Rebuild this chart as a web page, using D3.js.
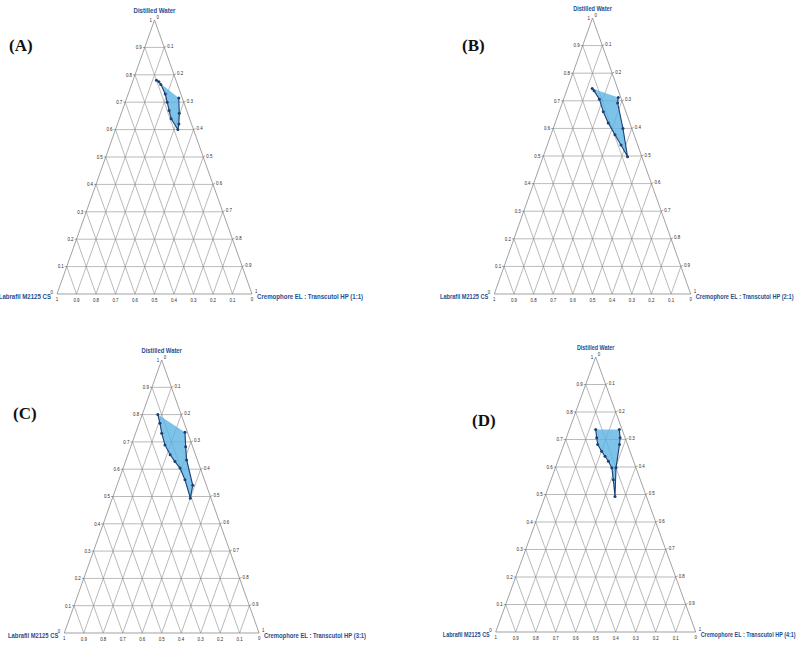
<!DOCTYPE html>
<html lang="en">
  <head>
    <meta charset="utf-8">
    <title>Pseudo-ternary phase diagrams</title>
    <script src="https://cdn.jsdelivr.net/npm/d3@7"></script>
    <style>
      body { margin: 0; background: #fff; }
    </style>
  </head>
  <body>
    <script>
      // panel names and Smix ratios
      const panelNames = ["(A)", "(B)", "(C)", "(D)"];
      const smixRatios = ["1:1", "2:1", "3:1", "4:1"];
      const topName = "Distilled Water";
      const leftName = "Labrafil M2125 CS";
      const rightName = "Cremophore EL : Transcutol HP";
      const tickValues = [0.1, 0.2, 0.3, 0.4, 0.5, 0.6, 0.7, 0.8, 0.9];
      const tickLabels = ["0.1", "0.2", "0.3", "0.4", "0.5", "0.6", "0.7", "0.8", "0.9"];

      // boundary of the microemulsion region, water + Smix fractions (oil = rest)
      // order: top-left corner, down the left side, up the right side
      const waterA = [0.78, 0.775, 0.765, 0.73, 0.70, 0.67, 0.64, 0.60, 0.62, 0.66, 0.715];
      const smixA  = [0.12, 0.135, 0.15, 0.19, 0.215, 0.24, 0.265, 0.32, 0.315, 0.297, 0.267];
      const waterB = [0.745, 0.736, 0.706, 0.66, 0.62, 0.577, 0.54, 0.497, 0.60, 0.692, 0.712];
      const smixB  = [0.126, 0.14, 0.182, 0.225, 0.27, 0.326, 0.375, 0.43, 0.355, 0.282, 0.275];
      const waterC = [0.80, 0.768, 0.732, 0.689, 0.653, 0.628, 0.604, 0.561, 0.494, 0.541, 0.634, 0.682, 0.735];
      const smixC  = [0.08, 0.107, 0.134, 0.172, 0.217, 0.254, 0.292, 0.339, 0.40, 0.389, 0.311, 0.282, 0.252];
      const waterD = [0.736, 0.706, 0.682, 0.657, 0.639, 0.621, 0.597, 0.554, 0.493, 0.597, 0.682, 0.706, 0.736];
      const smixD  = [0.132, 0.152, 0.169, 0.201, 0.227, 0.253, 0.282, 0.311, 0.35, 0.303, 0.278, 0.269, 0.25];

      const regions = [[waterA, smixA], [waterB, smixB], [waterC, smixC], [waterD, smixD]];

      // where each triangle sits on the page
      const frames = [
        {left: 57, right: 252, top: 20, base: 294, lx: 9, ly: 51, fs: 7.6},
        {left: 494.3, right: 690.7, top: 18, base: 294, lx: 462, ly: 51, fs: 7},
        {left: 64.3, right: 259.1, top: 360, base: 633, lx: 13, ly: 419, fs: 7.3},
        {left: 495.7, right: 695.7, top: 357, base: 632, lx: 472, ly: 426, fs: 6.8}
      ];

      const NAVY = "#1d3f72";
      const LABEL_BLUE = "#1f4e8f";
      const GRID = "#8c8c8c";
      const SANS = "'Liberation Sans', Arial, sans-serif";

      // the original uses a narrow font; squeeze normal glyphs instead
      function condense(sel, k) {
        sel.each(function() {
          var len = this.getComputedTextLength();
          d3.select(this).attr("textLength", len * k).attr("lengthAdjust", "spacingAndGlyphs");
        });
      }

      var svg = d3.select("body").append("svg")
        .attr("width", 796)
        .attr("height", 650);

      frames.forEach(function(f, i) {
        var g = svg.append("g");
        var xs = d3.scaleLinear().domain([0, 1]).range([f.left, f.right]);
        var ys = d3.scaleLinear().domain([0, 1]).range([f.base, f.top]);
        // water w, smix s -> pixel
        function px(w, s) { return [xs(s + w / 2), ys(w)]; }

        // grid lines, three families
        var lines = [];
        tickValues.forEach(function(k) {
          lines.push([px(k, 0), px(k, 1 - k)]);        // constant water
          lines.push([px(0, k), px(1 - k, k)]);        // constant smix
          lines.push([px(0, 1 - k), px(1 - k, 0)]);    // constant oil
        });
        g.selectAll("line.grid").data(lines).enter().append("line")
          .attr("class", "grid")
          .attr("x1", d => d[0][0]).attr("y1", d => d[0][1])
          .attr("x2", d => d[1][0]).attr("y2", d => d[1][1])
          .attr("stroke", GRID)
          .attr("stroke-width", 0.6);

        // outer triangle
        g.append("path")
          .attr("d", d3.line()([px(1, 0), px(0, 0), px(0, 1)]) + "Z")
          .attr("fill", "none")
          .attr("stroke", "#7a7a7a")
          .attr("stroke-width", 0.7);

        // region
        var water = regions[i][0], smix = regions[i][1];
        var pts = water.map((w, j) => px(w, smix[j]));
        g.append("path")
          .attr("d", d3.line()(pts) + "Z")
          .attr("fill", "#5db3e4")
          .attr("fill-opacity", 0.8)
          .attr("stroke", "none");
        g.append("path")
          .attr("d", d3.line()(pts))
          .attr("fill", "none")
          .attr("stroke", NAVY)
          .attr("stroke-width", 1.1);
        g.selectAll("circle").data(pts).enter().append("circle")
          .attr("cx", d => d[0]).attr("cy", d => d[1])
          .attr("r", 1.5)
          .attr("fill", NAVY);

        // tick labels
        var tk = g.append("g")
          .attr("font-family", SANS)
          .attr("font-size", 5.5)
          .attr("fill", "#2a2a2a");
        tickValues.forEach(function(k, j) {
          var a = px(k, 0), b = px(1 - k, k), c = px(0, 1 - k);
          tk.append("text").attr("x", a[0] - 3).attr("y", a[1] + 1.8)
            .attr("text-anchor", "end").text(tickLabels[j]);
          tk.append("text").attr("x", b[0] + 3).attr("y", b[1] + 0.5)
            .text(tickLabels[j]);
          tk.append("text").attr("x", c[0]).attr("y", c[1] + 8)
            .attr("text-anchor", "middle").text(tickLabels[j]);
          g.append("line").attr("x1", a[0] - 2).attr("y1", a[1]).attr("x2", a[0]).attr("y2", a[1])
            .attr("stroke", "#666").attr("stroke-width", 0.6);
          g.append("line").attr("x1", b[0]).attr("y1", b[1]).attr("x2", b[0] + 2).attr("y2", b[1] - 1)
            .attr("stroke", "#666").attr("stroke-width", 0.6);
        });
        var apex = px(1, 0), bl = px(0, 0), br = px(0, 1);
        tk.append("text").attr("x", apex[0] - 2.5).attr("y", apex[1] + 1.5).attr("text-anchor", "end").text("1");
        tk.append("text").attr("x", apex[0] + 2).attr("y", apex[1] - 1.5).text("0");
        tk.append("text").attr("x", bl[0] - 4).attr("y", bl[1] - 0.5).attr("text-anchor", "end").text("0");
        tk.append("text").attr("x", bl[0]).attr("y", bl[1] + 7).attr("text-anchor", "middle").text("1");
        tk.append("text").attr("x", br[0] + 3).attr("y", br[1] - 1.5).text("1");
        tk.append("text").attr("x", br[0]).attr("y", br[1] + 7).attr("text-anchor", "middle").text("0");
        condense(tk.selectAll("text"), 0.8);

        // axis names
        var nm = g.append("g")
          .attr("font-family", SANS)
          .attr("font-weight", "bold")
          .attr("font-size", f.fs)
          .attr("fill", LABEL_BLUE);
        nm.append("text").attr("x", apex[0]).attr("y", apex[1] - 7)
          .attr("text-anchor", "middle").text(topName);
        nm.append("text").attr("x", bl[0] - 6).attr("y", bl[1] + 4.5)
          .attr("text-anchor", "end").text(leftName);
        nm.append("text").attr("x", br[0] + 5).attr("y", br[1] + 4.5)
          .text(rightName + " (" + smixRatios[i] + ")");
        condense(nm.selectAll("text"), 0.8);

        // panel letter
        svg.append("text")
          .attr("x", f.lx).attr("y", f.ly)
          .attr("font-family", "'Liberation Serif', serif")
          .attr("font-weight", "bold")
          .attr("font-size", 17)
          .attr("fill", "#111")
          .text(panelNames[i]);
      });
    </script>
  </body>
</html>
